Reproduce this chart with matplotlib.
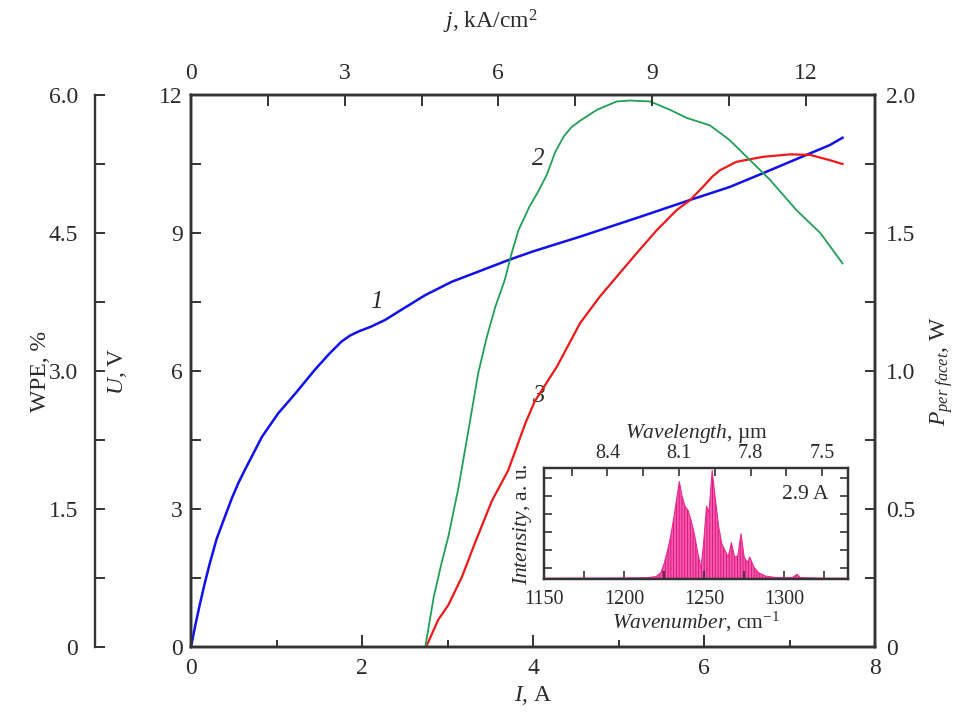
import numpy as np
import matplotlib
matplotlib.use("Agg")
import matplotlib.pyplot as plt
from matplotlib.ticker import MultipleLocator, FixedLocator, NullFormatter

plt.rcParams['font.family'] = ['Liberation Serif', 'DejaVu Serif']
plt.rcParams['mathtext.fontset'] = 'custom'
plt.rcParams['mathtext.rm'] = 'Liberation Serif'
plt.rcParams['mathtext.it'] = 'Liberation Serif:italic'
plt.rcParams['mathtext.bf'] = 'Liberation Serif:bold'
plt.rcParams['hatch.linewidth'] = 0.6

# ---- data ----
# Curve 1: voltage U (V) vs current I (A)
I_U = [0, 0.05, 0.10, 0.16, 0.22, 0.30, 0.40, 0.475, 0.55, 0.63, 0.83, 1.02, 1.22,
       1.45, 1.62, 1.76, 1.86, 1.96, 2.10, 2.27, 2.46, 2.74, 3.05, 3.36, 3.71, 4.00,
       4.55, 5.25, 5.84, 6.30, 6.69, 7.20, 7.47, 7.62]
U = [0, 0.47, 0.90, 1.38, 1.82, 2.35, 2.85, 3.22, 3.55, 3.85, 4.57, 5.08, 5.51,
     6.03, 6.38, 6.64, 6.77, 6.86, 6.96, 7.11, 7.33, 7.65, 7.94, 8.16, 8.41, 8.60,
     8.92, 9.35, 9.72, 10.00, 10.30, 10.70, 10.91, 11.07]

# Curve 2: wall-plug efficiency WPE (%) vs I (A)
I_W = [2.74, 2.84, 2.93, 3.01, 3.13, 3.24, 3.36, 3.46, 3.56, 3.67, 3.75, 3.83, 3.96,
       4.06, 4.16, 4.26, 4.36, 4.45, 4.55, 4.75, 4.98, 5.13, 5.37, 5.60, 5.80, 6.07,
       6.30, 6.54, 6.77, 7.08, 7.36, 7.62]
WPE = [0, 0.55, 0.91, 1.20, 1.74, 2.33, 2.98, 3.37, 3.70, 3.99, 4.28, 4.53, 4.79,
       4.95, 5.13, 5.38, 5.55, 5.65, 5.72, 5.84, 5.93, 5.94, 5.93, 5.84, 5.75, 5.67,
       5.51, 5.29, 5.08, 4.75, 4.50, 4.17]

# Curve 3: output power per facet P (W) vs I (A)
I_P = [2.75, 2.89, 3.01, 3.17, 3.32, 3.52, 3.71, 3.91, 4.02, 4.28, 4.55, 4.78, 4.98,
       5.21, 5.45, 5.68, 5.84, 5.99, 6.10, 6.19, 6.38, 6.69, 7.01, 7.24, 7.47, 7.62]
P = [0, 0.098, 0.152, 0.255, 0.376, 0.530, 0.640, 0.810, 0.890, 1.016, 1.173, 1.269,
     1.342, 1.426, 1.511, 1.583, 1.620, 1.668, 1.705, 1.728, 1.758, 1.776, 1.785,
     1.783, 1.764, 1.750]

# conversion current -> current density (kA/cm^2 per A)
J_PER_A = 1.669

# Inset: emission spectrum at 2.9 A (envelope, a.u.)
wn = [1150, 1200, 1215, 1220, 1223, 1225, 1227, 1229, 1231, 1233, 1234.5, 1236, 1238,
      1240, 1242, 1244, 1246, 1248, 1249.5, 1251.5, 1253, 1255, 1257, 1259, 1261, 1263,
      1265, 1267, 1269, 1271, 1273, 1275, 1277, 1278.5, 1281, 1284, 1288, 1295, 1305,
      1308, 1310, 1325, 1340]
inten = [0.01, 0.012, 0.015, 0.025, 0.06, 0.14, 0.25, 0.38, 0.55, 0.74, 0.88, 0.76, 0.66,
         0.62, 0.52, 0.40, 0.24, 0.10, 0.30, 0.66, 0.60, 0.98, 0.72, 0.48, 0.32, 0.26,
         0.20, 0.33, 0.20, 0.21, 0.41, 0.20, 0.15, 0.20, 0.11, 0.06, 0.03, 0.015, 0.015,
         0.045, 0.015, 0.01, 0.01]

main_ticks_j = [0, 3, 6, 9, 12]
wl_ticks = [8.4, 8.1, 7.8, 7.5]

# ---- style ----
TXT = '#2b2b2b'
SP = '#333333'
FS = 17
FSI = 14.5
plt.rcParams['text.color'] = TXT

W, H = 961, 715
fig = plt.figure(figsize=(W / 100, H / 100), dpi=100)
L, R, B, T = 191, 875, 647, 95
ax = fig.add_axes([L / W, (H - B) / H, (R - L) / W, (B - T) / H])

ax_p = ax.twinx()
ax_w = ax.twinx()
ax_j = ax.twiny()

for a in (ax, ax_p, ax_w, ax_j):
    for s in a.spines.values():
        s.set_linewidth(1.7)
        s.set_color(SP)

# main x axis
ax.set_xlim(0, 8)
ax.set_ylim(0, 12)
ax.xaxis.set_major_locator(MultipleLocator(2))
ax.xaxis.set_minor_locator(MultipleLocator(1))
ax.yaxis.set_major_locator(MultipleLocator(3))
ax.yaxis.set_minor_locator(MultipleLocator(1.5))
ax.tick_params(axis='x', which='major', direction='in', length=9, width=1.4, colors=SP,
               labelcolor=TXT, labelsize=FS, pad=8, top=False)
ax.tick_params(axis='x', which='minor', direction='in', length=5, width=1.4, colors=SP, top=False)
ax.tick_params(axis='y', which='both', direction='in', length=7, width=1.4, colors=SP,
               labelcolor=TXT, labelsize=FS, pad=6, right=False)
ax.yaxis.set_minor_formatter(NullFormatter())
ax.set_xlabel('$I$, A', fontsize=FS, color=TXT)
ax.xaxis.set_label_coords(0.5, -0.088)
ax.xaxis.label.set_va('center')
ax.set_ylabel('$U$, V', fontsize=FS, color=TXT)
ax.yaxis.set_label_coords(-0.108, 0.5)
ax.yaxis.label.set_va('center')

# top j axis
ax_j.set_xlim(0, 8 * J_PER_A)
ax_j.xaxis.set_major_locator(FixedLocator(main_ticks_j))
ax_j.xaxis.set_minor_locator(MultipleLocator(1.5))
ax_j.tick_params(axis='x', which='both', direction='in', length=8, width=1.4, colors=SP,
                 labelcolor=TXT, labelsize=FS, pad=8)
ax_j.set_xlabel('$j$, kA/cm$^2$', fontsize=FS, color=TXT)
ax_j.xaxis.set_label_coords((490 - L) / (R - L), (B - 22) / (B - T))
ax_j.xaxis.label.set_va('center')

# right P axis
ax_p.set_ylim(0, 2.0)
ax_p.yaxis.set_major_locator(FixedLocator([0, 0.5, 1.0, 1.5, 2.0]))
ax_p.yaxis.set_minor_locator(MultipleLocator(0.25))
ax_p.set_yticklabels(['0', '0.5', '1.0', '1.5', '2.0'])
ax_p.tick_params(axis='y', which='both', direction='in', length=7, width=1.4, colors=SP,
                 labelcolor=TXT, labelsize=FS, pad=8)
ax_p.set_ylabel('$P_{per\\ facet}$, W', fontsize=FS, color=TXT, rotation=90)
ax_p.yaxis.set_label_coords((942 - L) / (R - L), 0.5)
ax_p.yaxis.label.set_va('center')

# left WPE axis (offset spine)
ax_w.set_ylim(0, 6.0)
ax_w.spines['left'].set_visible(True)
ax_w.spines['left'].set_position(('axes', (95 - L) / (R - L)))
ax_w.spines['right'].set_visible(False)
ax_w.spines['top'].set_visible(False)
ax_w.spines['bottom'].set_visible(False)
ax_w.yaxis.set_ticks_position('left')
ax_w.yaxis.set_label_position('left')
ax_w.yaxis.set_major_locator(FixedLocator([0, 1.5, 3.0, 4.5, 6.0]))
ax_w.yaxis.set_minor_locator(MultipleLocator(0.75))
ax_w.set_yticklabels(['0', '1.5', '3.0', '4.5', '6.0'])
ax_w.tick_params(axis='y', which='both', direction='in', length=7, width=1.4, colors=SP,
                 labelcolor=TXT, labelsize=FS, pad=12)
ax_w.set_ylabel('WPE, %', fontsize=FS, color=TXT)
ax_w.yaxis.set_label_coords((40 - L) / (R - L), 0.5)
ax_w.yaxis.label.set_va('center')

# curves
ax.plot(I_U, U, color='#1010f0', lw=1.8, solid_joinstyle='round')
ax_w.plot(I_W, WPE, color='#20a055', lw=1.3, solid_joinstyle='round')
ax_p.plot(I_P, P, color='#f01818', lw=1.6, solid_joinstyle='round')

# curve labels
ax.text(2.17, 7.5, '1', fontsize=18, style='italic', color=TXT, ha='center', va='center')
ax.text(4.06, 10.6, '2', fontsize=18, style='italic', color=TXT, ha='center', va='center')
ax.text(4.06, 5.45, '3', fontsize=18, style='italic', color=TXT, ha='center', va='center')

# ---- inset ----
iL, iR, iB, iT = 544, 848.3, 579.3, 468.3
axi = fig.add_axes([iL / W, (H - iB) / H, (iR - iL) / W, (iB - iT) / H])
axi.set_xlim(1150, 1340)
axi.set_ylim(0, 1.0)
axi.fill_between(wn, 0, inten, facecolor='#f25aae', edgecolor='#de0a78', hatch='||||||',
                 linewidth=0.0)
axi.plot(wn, inten, color='#ec2a8c', lw=0.8)
for s in axi.spines.values():
    s.set_linewidth(1.6)
    s.set_color(SP)
axi.xaxis.set_major_locator(FixedLocator([1150, 1200, 1250, 1300]))
axi.xaxis.set_minor_locator(MultipleLocator(25))
axi.yaxis.set_major_locator(FixedLocator([0.099, 0.261, 0.423, 0.585, 0.747, 0.909]))
axi.yaxis.set_major_formatter(NullFormatter())
axi.tick_params(axis='x', which='both', direction='in', length=6, width=1.2, colors=SP,
                labelcolor=TXT, labelsize=FSI, pad=8, top=False)
axi.tick_params(axis='y', which='both', direction='in', length=6, width=1.2, colors=SP,
                left=True, right=True)
axi.set_xlabel('$\\mathit{Wavenumber}$, cm$^{-1}$', fontsize=FSI + 1, color=TXT, labelpad=0)
axi.set_ylabel('$\\mathit{Intensity}$, a. u.', fontsize=FSI + 1, color=TXT, labelpad=4)
axi.text(0.86, 0.76, '2.9 A', transform=axi.transAxes, fontsize=FSI + 1, ha='center',
         va='center', color=TXT)

axt = axi.twiny()
axt.set_xlim(8.666, 7.390)
axt.xaxis.set_major_locator(FixedLocator(wl_ticks))
axt.xaxis.set_minor_locator(MultipleLocator(0.15))
axt.set_xticklabels(['8.4', '8.1', '7.8', '7.5'])
axt.tick_params(axis='x', which='both', direction='in', length=6, width=1.2, colors=SP,
                labelcolor=TXT, labelsize=FSI, pad=4)
axt.set_xlabel('$\\mathit{Wavelength}$, µm', fontsize=FSI + 1, color=TXT, labelpad=4)
for s in axt.spines.values():
    s.set_linewidth(1.6)
    s.set_color(SP)

fig.savefig('out.png', dpi=100)
